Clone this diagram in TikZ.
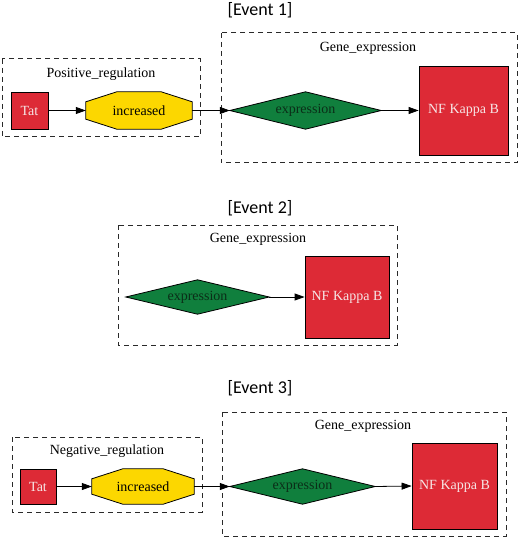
\documentclass[tikz,border=0pt]{standalone}
\usepackage{fontspec}
\setmainfont{Liberation Serif}
\newfontfamily\titlefont{Carlito}
\usetikzlibrary{arrows.meta,calc}
\definecolor{boxred}{HTML}{DD2A36}
\definecolor{boxgold}{HTML}{FCD700}
\definecolor{boxgreen}{HTML}{107F3D}
\definecolor{dashgray}{HTML}{2A2A2A}
\definecolor{nftext}{HTML}{F6E6E6}
\definecolor{exptext}{HTML}{0B2E18}
\tikzset{
  lbl/.style={font=\fontsize{14}{16}\selectfont, inner sep=0pt},
  title/.style={font=\titlefont\fontsize{18}{21}\selectfont, inner sep=0pt},
  cluster/.style={draw=dashgray, line width=1pt, dash pattern=on 5pt off 4pt},
  redbox/.style={draw=black, line width=0.8pt, fill=boxred, text=nftext, inner sep=0pt,
    font=\fontsize{14}{16}\selectfont},
  holder/.style={inner sep=0pt, font=\fontsize{14}{16}\selectfont},
  edge/.style={line width=0.8pt, -{Triangle[length=10pt,width=7pt]}},
  outline/.style={draw=black, line width=0.8pt},
}
\newcommand{\octa}[1]{%
  \path[outline, fill=boxgold] ($(#1.north west)+(0,10)$) -- ($(#1.north west)+(31,0)$)
    -- ($(#1.north east)+(-31,0)$) -- ($(#1.north east)+(0,10)$)
    -- ($(#1.south east)+(0,-10)$) -- ($(#1.south east)+(-31,0)$)
    -- ($(#1.south west)+(31,0)$) -- ($(#1.south west)+(0,-10)$) -- cycle;}
\newcommand{\diam}[1]{%
  \path[outline, fill=boxgreen] (#1.west) -- (#1.north) -- (#1.east) -- (#1.south) -- cycle;}
\begin{document}
\begin{tikzpicture}[x=1pt,y=-1pt]
\useasboundingbox (0,0) rectangle (520,540);
\fill[white] (0,0) rectangle (520,540);

% ---------- Event 1 ----------
\node[title] (t1) at (260,10.5) {[Event 1]};
\draw[cluster] (2,59) rectangle (200,137);
\node[lbl] (l1a) at (101,74) {Positive\_regulation};
\draw[cluster] (221,33) rectangle (517,163);
\node[lbl] (l1b) at (368,48) {Gene\_expression};
\node[redbox, minimum width=37pt, minimum height=37pt] (tat1) at (29.5,110.5) {Tat};
\node[holder, minimum width=106pt, minimum height=37pt] (inc1) at (139,110.5) {};
\octa{inc1}
\node[holder] at (inc1) {increased};
\node[holder, minimum width=151pt, minimum height=37pt] (exp1) at (305.5,110.5) {};
\diam{exp1}
\node[holder, text=exptext] at (exp1) {expression};
\node[redbox, minimum width=89pt, minimum height=89pt] (nf1) at (463.5,110.5) {NF Kappa B};
\draw[edge] (tat1.east) -- (inc1.west);
\draw[edge] (inc1.east) -- (exp1.west);
\draw[edge] (exp1.east) -- (nf1.west);

% ---------- Event 2 ----------
\node[title] (t2) at (260,208) {[Event 2]};
\draw[cluster] (118,225) rectangle (397,345);
\node[lbl] (l2) at (258,239) {Gene\_expression};
\node[holder, minimum width=143pt, minimum height=34pt] (exp2) at (197.5,297) {};
\diam{exp2}
\node[holder, text=exptext] at (exp2) {expression};
\node[redbox, minimum width=84pt, minimum height=82pt] (nf2) at (347,297) {NF Kappa B};
\draw[edge] (exp2.east) -- (nf2.west);

% ---------- Event 3 ----------
\node[title] (t3) at (260,388) {[Event 3]};
\draw[cluster] (12,437) rectangle (202,512);
\node[lbl] (l3a) at (107,451) {Negative\_regulation};
\draw[cluster] (222,412) rectangle (506,536);
\node[lbl] (l3b) at (363,426) {Gene\_expression};
\node[redbox, minimum width=36pt, minimum height=35pt] (tat3) at (38,486.5) {Tat};
\node[holder, minimum width=102pt, minimum height=35pt] (inc3) at (143,486.5) {};
\octa{inc3}
\node[holder] at (inc3) {increased};
\node[holder, minimum width=145pt, minimum height=35pt] (exp3) at (302.5,486.5) {};
\diam{exp3}
\node[holder, text=exptext] at (exp3) {expression};
\node[redbox, minimum width=85pt, minimum height=86pt] (nf3) at (454.5,486) {NF Kappa B};
\draw[edge] (tat3.east) -- (inc3.west);
\draw[edge] (inc3.east) -- (exp3.west);
\draw[edge] (exp3.east) -- (nf3.west);
\end{tikzpicture}
\end{document}
